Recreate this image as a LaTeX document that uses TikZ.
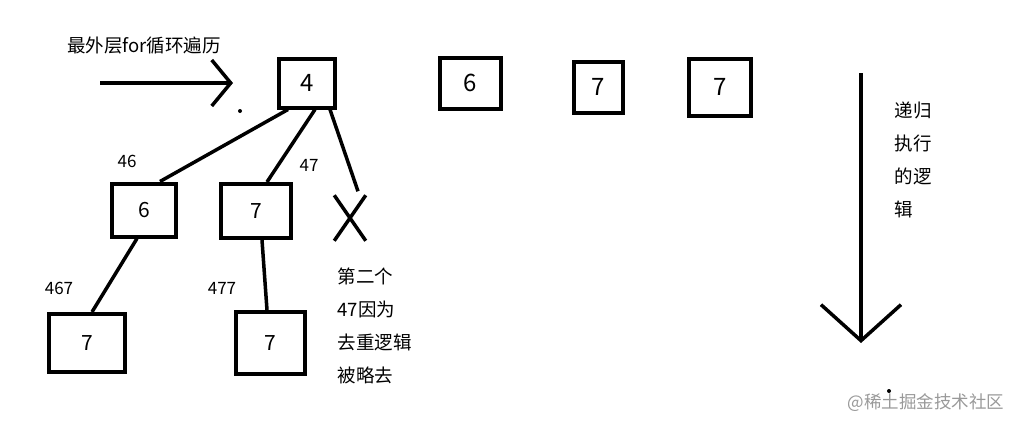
\documentclass[tikz,border=0pt]{standalone}
\usepackage{fontspec}
\newfontfamily\cjk{Noto Sans CJK SC}
\usetikzlibrary{arrows.meta,shapes.misc}

\begin{document}
\begin{tikzpicture}[
    x=1pt, y=-1pt,
    every node/.style={font=\cjk},
    box/.style={rectangle, draw=black, line width=4pt, fill=white, inner sep=0pt},
    big/.style={font=\cjk\fontsize{24}{24}\selectfont},
    small/.style={font=\cjk\fontsize{21}{21}\selectfont},
    lbl/.style={font=\cjk\fontsize{17}{17}\selectfont},
    note/.style={font=\cjk\fontsize{18.5}{33}\selectfont, align=left, anchor=west},
    edge/.style={line width=3.5pt, -},
    dotmark/.style={fill=black}
]
    \useasboundingbox (0,0) rectangle (1015,421);

    % top row
    \node[box, big, minimum width=56pt, minimum height=49pt] (r4) at (307,83) {4};
    \node[box, big, minimum width=61pt, minimum height=51pt] (r6) at (470,83) {6};
    \node[box, big, minimum width=49pt, minimum height=51pt] (r7) at (598,87) {7};
    \node[box, big, minimum width=62pt, minimum height=57pt] (r7b) at (720,87) {7};

    % second level
    \node[box, small, minimum width=64pt, minimum height=53pt] (c6) at (144,210) {6};
    \node[box, small, minimum width=70pt, minimum height=54pt] (c7) at (256,211) {7};
    \node[cross out, draw=black, line width=3.5pt, minimum width=28pt, minimum height=42pt] (skip) at (350,218) {};

    % third level
    \node[box, small, minimum width=76pt, minimum height=58pt] (g6) at (87,343) {7};
    \node[box, small, minimum width=69pt, minimum height=62pt] (g7) at (270,343) {7};

    \draw[edge] ([xshift=-19pt]r4.south) -- ([xshift=16pt]c6.north);
    \draw[edge] ([xshift=8pt]r4.south) -- ([xshift=11pt]c7.north);
    \draw[edge] ([xshift=23pt]r4.south) -- ([xshift=8pt,yshift=4pt]skip.north);
    \draw[edge] ([xshift=-7pt]c6.south) -- ([xshift=5pt]g6.north);
    \draw[edge] ([xshift=6pt]c7.south) -- ([xshift=-3pt]g7.north);

    % path labels
    \node[lbl] (p46) at (127,161) {46};
    \node[lbl] (p47) at (309,165) {47};
    \node[lbl] (p467) at (59,288) {467};
    \node[lbl] (p477) at (222,288) {477};

    \node[note] (why) at (334,326) {第二个\\47因为\\去重逻辑\\被略去};

    % outer loop arrow
    \node[font=\cjk\fontsize{18.5}{18.5}\selectfont] (outer) at (144,46) {最外层for循环遍历};
    \coordinate (loopstart) at (100,83);
    \coordinate (loopend) at (233,83);
    \draw[edge, -{Straight Barb[length=19pt, width=46pt]}] (loopstart) -- (loopend);
    \fill[dotmark] (240,111) circle (2pt);

    % recursion arrow
    \coordinate (recstart) at (861,73);
    \coordinate (recend) at (861,343);
    \draw[edge, -{Straight Barb[length=36pt, width=80pt]}] (recstart) -- (recend);
    \node[note] (rec) at (891,160) {递归\\执行\\的逻\\辑};
    \fill[dotmark] (889,391) circle (2pt);

    \node[font=\cjk\fontsize{17.5}{17.5}\selectfont, text=black!40, anchor=west] (wm) at (844,403) {@稀土掘金技术社区};
\end{tikzpicture}
\end{document}
